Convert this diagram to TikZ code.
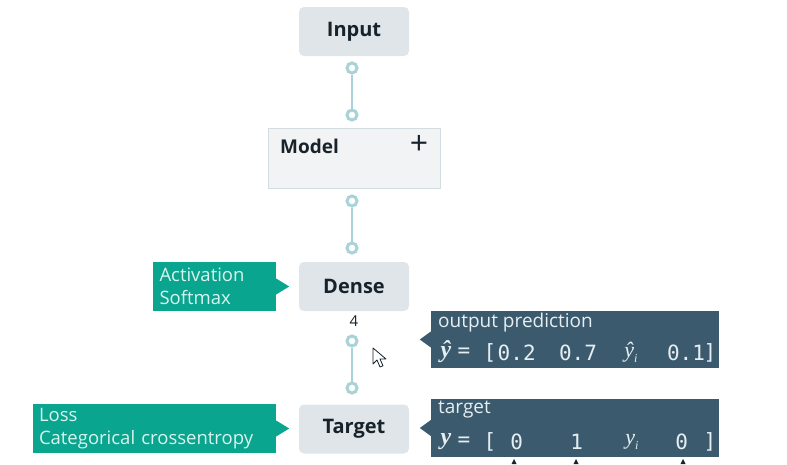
\documentclass[tikz,border=0pt]{standalone}
\usepackage{fontspec}
\setmainfont{Open Sans}
\newfontfamily\monof{DejaVu Sans Mono}
\newfontfamily\serif{Liberation Serif}
\definecolor{boxgray}{HTML}{DFE5E8}
\definecolor{modelfill}{HTML}{F1F3F4}
\definecolor{modeledge}{HTML}{D3DCDF}
\definecolor{tealc}{HTML}{0AA58F}
\definecolor{tealtext}{HTML}{D9F4EE}
\definecolor{darkbox}{HTML}{3B5A6E}
\definecolor{darktext}{HTML}{E6EEF1}
\definecolor{conn}{HTML}{A9D3D8}
\definecolor{ink}{HTML}{17222B}
\newcommand{\subi}{\raisebox{-5pt}{\fontsize{12}{12}\selectfont i}}
\begin{document}
\begin{tikzpicture}[x=1pt,y=-1pt,
  layer/.style={fill=boxgray, rounded corners=5pt, minimum width=110pt, minimum height=49pt, inner sep=0pt,
    text=ink, font=\fontsize{20}{22}\selectfont\bfseries},
  port/.style={circle, draw=conn, line width=3pt, fill=white, minimum size=10pt, inner sep=0pt},
  link/.style={draw=conn, line width=2pt},
  tealbox/.style={fill=tealc, inner sep=0pt, text=tealtext, align=left,
    font=\fontsize{18.5}{23}\selectfont, minimum height=49pt},
  darkb/.style={fill=darkbox, inner sep=0pt, minimum width=288pt},
  dlabel/.style={text=darktext, inner sep=0pt, font=\fontsize{19}{21}\selectfont},
  mono/.style={text=darktext, inner sep=0pt, font=\monof\fontsize{21}{23}\selectfont},
  mthb/.style={text=darktext, inner sep=0pt, font=\serif\fontsize{24}{26}\selectfont\bfseries\itshape},
  mth/.style={text=darktext, inner sep=0pt, font=\serif\fontsize{22}{24}\selectfont\itshape},
]
\useasboundingbox (0,0) rectangle (787,464);

% main column
\node[layer] (input) at (354,31.5) {Input};
\node[port] (p1) at (352,68) {};
\node[port] (p2) at (352,115) {};
\draw[link] (p1) -- (p2);

\node[fill=modelfill, draw=modeledge, line width=1.5pt, minimum width=172pt, minimum height=60pt, inner sep=0pt] (model) at (354.5,158.5) {};
\node[anchor=west, inner sep=0pt, text=ink, font=\fontsize{19}{21}\selectfont\bfseries] (modeltxt) at (280,146.5) {Model};
\node[inner sep=0pt, text=ink, font=\fontsize{32}{32}\selectfont] (plus) at (419,145) {+};

\node[port] (p3) at (352,201) {};
\node[port] (p4) at (352,248) {};
\draw[link] (p3) -- (p4);

\node[layer] (dense) at (354,286.5) {Dense};
\node[inner sep=0pt, text=ink, font=\fontsize{15}{17}\selectfont] (four) at (354,321) {4};

\node[port] (p5) at (352,341) {};
\node[port] (p6) at (352,388) {};
\draw[link] (p5) -- (p6);

\node[layer] (target) at (354,429) {Target};

% teal annotation boxes
\node[tealbox, minimum width=123pt, text width=110pt] (act) at (214.5,286.5) {Activation\\Softmax};
\fill[tealc] ([yshift=8pt]act.east) -- ++(13pt,-8pt) coordinate (acttip) -- ([yshift=-8pt]act.east) -- cycle;

\node[tealbox, minimum width=243pt, text width=231pt] (loss) at (154.5,428.5) {Loss\\Categorical crossentropy};
\fill[tealc] ([yshift=8pt]loss.east) -- ++(13pt,-8pt) coordinate (losstip) -- ([yshift=-8pt]loss.east) -- cycle;

% dark output boxes
\node[darkb, minimum height=57pt] (outbox) at (575,339.5) {};
\fill[darkbox] ([yshift=8pt]outbox.west) -- ++(-11pt,-8pt) coordinate (outtip) -- ([yshift=-8pt]outbox.west) -- cycle;
\node[dlabel, anchor=west] (outlbl) at (438,322.5) {output prediction};
\node[mthb] (yh) at (446,352) {ŷ};
\node[mono] (eq1) at (464,353) {=};
\node[mono] (lb1) at (490,353) {[};
\node[mono] (v11) at (516.7,353) {0.2};
\node[mono] (v12) at (578,353) {0.7};
\node[mth] (v13) at (631,352) {ŷ\subi};
\node[mono] (v14) at (686,353) {0.1};
\node[mono] (rb1) at (710,353) {]};

\node[darkb, minimum height=58pt] (tgtbox) at (575,428) {};
\fill[darkbox] ([yshift=8pt]tgtbox.west) -- ++(-11pt,-8pt) coordinate (tgttip) -- ([yshift=-8pt]tgtbox.west) -- cycle;
\node[dlabel, anchor=west] (tgtlbl) at (438,410) {target};
\node[mthb] (yy) at (446,442) {y};
\node[mono] (eq2) at (464,441.5) {=};
\node[mono] (lb2) at (490,441.5) {[};
\node[mono] (v21) at (516.7,441.5) {0};
\node[mono] (v22) at (576.7,441.5) {1};
\node[mth] (v23) at (632,442) {y\subi};
\node[mono] (v24) at (681.7,441.5) {0};
\node[mono] (rb2) at (710,441.5) {]};

% small markers under target vector
\foreach \xx/\nm in {514/m1,576/m2,683/m3}{
  \coordinate (\nm) at (\xx,459);
  \fill[ink] (\nm) -- ++(-2.5,5) -- ++(5,0) -- cycle;
}

% mouse cursor
\coordinate (cur) at (373,348);
\draw[fill=white, draw=ink, line width=0.8pt, line join=round]
  (cur) -- ++(0,16) -- ++(4,-4) -- ++(3,7) -- ++(3,-1.2) -- ++(-3,-6.8) -- ++(6,0) -- cycle;
\end{tikzpicture}
\end{document}
